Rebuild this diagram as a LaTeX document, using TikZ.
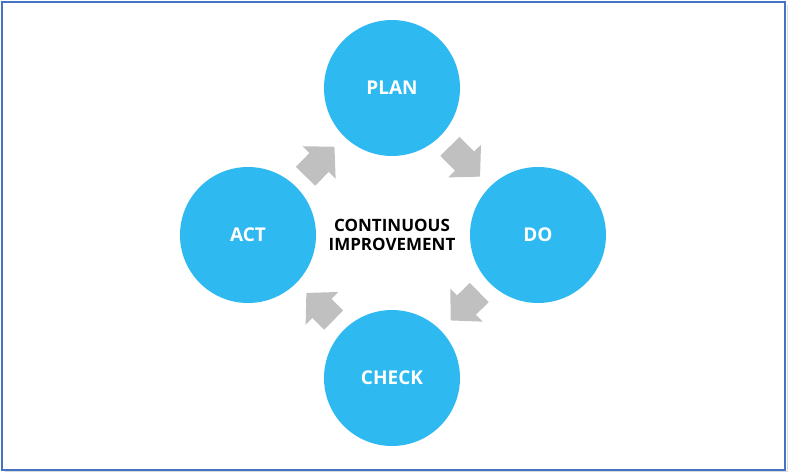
\documentclass[tikz,border=0pt]{standalone}
\usepackage{fontspec}
\setsansfont{Open Sans}
\usepackage{tikz}
\usetikzlibrary{arrows.meta}

\definecolor{phaseblue}{RGB}{46,186,240}
\definecolor{arrowgray}{RGB}{192,192,192}
\definecolor{frameblue}{RGB}{68,114,196}

\begin{document}
\begin{tikzpicture}[
    x=1pt, y=-1pt,
    phase/.style={circle, fill=phaseblue, minimum size=136pt, inner sep=0pt, text=white, font=\sffamily\bfseries\fontsize{19}{21}\selectfont},
    hub/.style={align=center, text=black, font=\sffamily\bfseries\fontsize{17}{19}\selectfont},
    turn/.style={draw=arrowgray, line width=27pt, -{Triangle[length=22pt, width=45pt]}, shorten <=14pt, shorten >=14pt}
]
\useasboundingbox (0,0) rectangle (788,472);

% frame
\draw[black!15, line width=1pt] (787,5) -- (787,471.5) -- (5,471.5);
\draw[frameblue, line width=2.5pt] (2,2) rectangle (785,470);

\node[hub] (hub) at (392,235) {CONTINUOUS\\IMPROVEMENT};
\node[phase] (plan) at (392,88) {PLAN};
\node[phase] (do) at (538,235) {DO};
\node[phase] (check) at (392,378) {CHECK};
\node[phase] (act) at (248,235) {ACT};

\draw[turn] (act) -- (plan);
\draw[turn] (plan) -- (do);
\draw[turn] (do) -- (check);
\draw[turn] (check) -- (act);

\end{tikzpicture}
\end{document}
